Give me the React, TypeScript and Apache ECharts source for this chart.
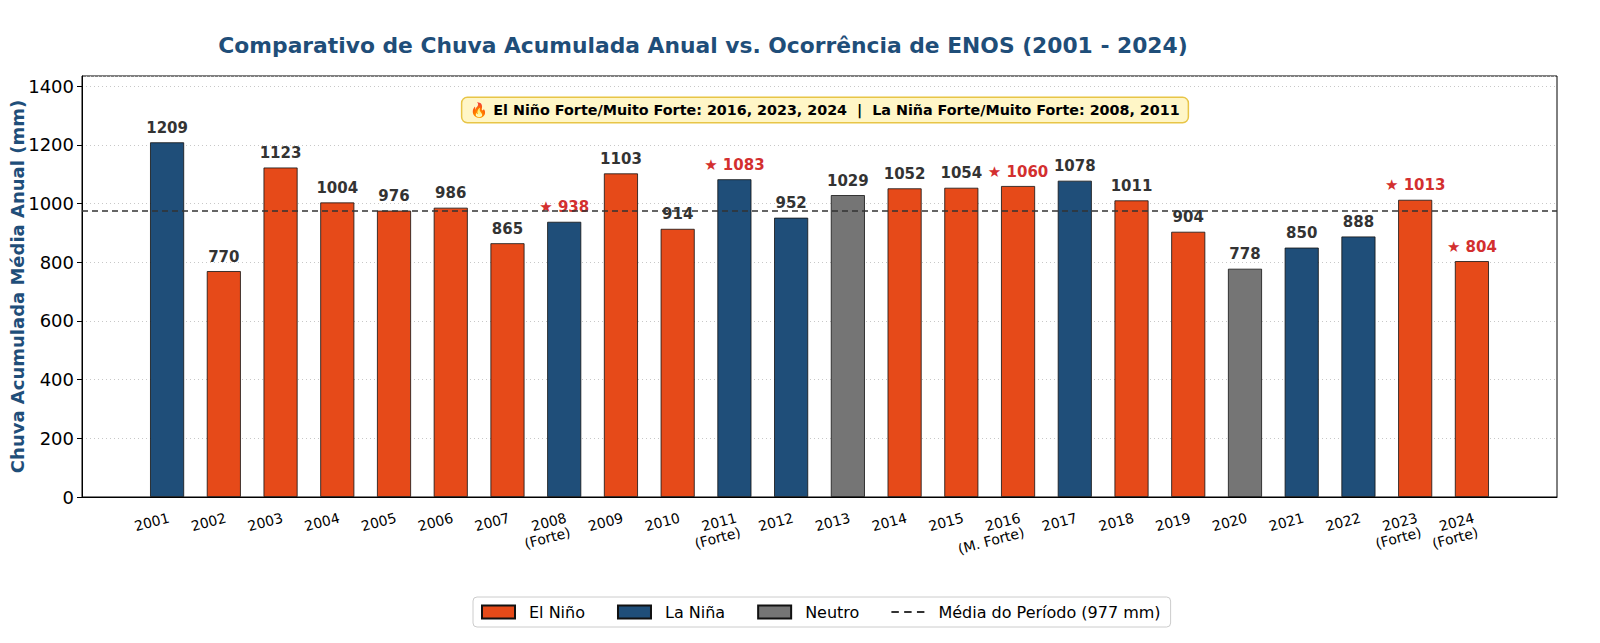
import React, { useEffect, useRef } from "react";
import * as echarts from "echarts";

const years = [2001, 2002, 2003, 2004, 2005, 2006, 2007, 2008, 2009, 2010, 2011, 2012, 2013, 2014, 2015, 2016, 2017, 2018, 2019, 2020, 2021, 2022, 2023, 2024];
const rainfall = [1209, 770, 1123, 1004, 976, 986, 865, 938, 1103, 914, 1083, 952, 1029, 1052, 1054, 1060, 1078, 1011, 904, 778, 850, 888, 1013, 804];
const phases = ["LN", "EN", "EN", "EN", "EN", "EN", "EN", "LN", "EN", "EN", "LN", "LN", "N", "EN", "EN", "EN", "LN", "EN", "EN", "N", "LN", "LN", "EN", "EN"];
const intensity = ["", "", "", "", "", "", "", "Forte", "", "", "Forte", "", "", "", "", "M. Forte", "", "", "", "", "", "", "Forte", "Forte"];
const meanValue = 977;

const FONT = "DejaVu Sans";
const COLORS: Record<string, string> = { EN: "#E64A19", LN: "#1F4E79", N: "#757575" };
const NAMES: Record<string, string> = { EN: "El Niño", LN: "La Niña", N: "Neutro" };
const MEAN_NAME = "Média do Período (977 mm)";

export default function App() {
  const ref = useRef<HTMLDivElement>(null);
  useEffect(() => {
    if (!ref.current) return;
    const chart = echarts.init(ref.current, undefined, { renderer: "svg" });
    const cats = ["", ...years.map((y, i) => (intensity[i] ? `${y}\n(${intensity[i]})` : `${y}`)), ""];
    const n = cats.length;
    const visible = (idx: number) => idx > 0 && idx < n - 1;

    const makeSeries = (key: string) => ({
      name: NAMES[key],
      type: "bar",
      barWidth: "60%",
      barGap: "-100%",
      data: ["-", ...rainfall.map((v, i) => (phases[i] === key ? v : "-")), "-"],
      itemStyle: { color: COLORS[key], borderColor: "#111", borderWidth: 0.8 },
      label: {
        show: true,
        position: "top",
        distance: 7,
        formatter: (p: any) => {
          const i = p.dataIndex - 1;
          return intensity[i] ? `{s|★ ${rainfall[i]}}` : `{n|${rainfall[i]}}`;
        },
        rich: {
          n: { fontFamily: FONT, fontSize: 15, fontWeight: "bold", color: "#333" },
          s: { fontFamily: FONT, fontSize: 15, fontWeight: "bold", color: "#D32F2F" },
        },
      },
    });

    const legendText = { fontFamily: FONT, fontSize: 16, color: "#000", padding: [0, 0, 0, 9] };

    const option: any = {
      animation: false,
      textStyle: { fontFamily: FONT },
      title: {
        text: "Comparativo de Chuva Acumulada Anual vs. Ocorrência de ENOS (2001 - 2024)",
        left: 690,
        top: 21,
        textAlign: "center",
        textStyle: { fontFamily: FONT, fontSize: 21.8, fontWeight: "bold", color: "#1F4E79" },
      },
      grid: {
        left: 74,
        right: 35,
        top: 68,
        bottom: 138,
        outerBoundsMode: "none",
        containLabel: false,
        show: true,
        borderColor: "#000",
        borderWidth: 1,
        backgroundColor: "transparent",
      },
      legend: {
        left: 465,
        bottom: 8,
        data: [
          { name: "El Niño", icon: "rect" },
          { name: "La Niña", icon: "rect" },
          { name: "Neutro", icon: "rect" },
          { name: MEAN_NAME, icon: "path://M0,5 h7 v2 h-7z M12,5 h7 v2 h-7z M24,5 h7 v2 h-7z" },
        ],
        borderColor: "#ccc",
        borderWidth: 1,
        borderRadius: 4,
        padding: [7, 10, 7, 8],
        itemWidth: 33,
        itemHeight: 13,
        itemGap: 32,
        textStyle: legendText,
      },
      xAxis: {
        type: "category",
        data: cats,
        axisLine: { lineStyle: { color: "#000" } },
        axisTick: { alignWithLabel: true, interval: (idx: number) => visible(idx), lineStyle: { color: "#000" }, length: 5 },
        axisLabel: {
          interval: (idx: number) => visible(idx),
          rotate: 15,
          fontFamily: FONT,
          fontSize: 14,
          color: "#000",
          lineHeight: 15,
          margin: 13,
          verticalAlign: "top",
        },
      },
      yAxis: {
        type: "value",
        min: 0,
        max: 1435,
        interval: 200,
        name: "Chuva Acumulada Média Anual (mm)",
        nameLocation: "middle",
        nameGap: 56,
        nameMoveOverlap: false,
        nameTextStyle: { fontFamily: FONT, fontSize: 18, fontWeight: "bold", color: "#1F4E79" },
        axisLine: { show: true, lineStyle: { color: "#000" } },
        axisTick: { show: true, length: 5, lineStyle: { color: "#000" } },
        axisLabel: { fontFamily: FONT, fontSize: 18, color: "#000", margin: 8, showMaxLabel: false, formatter: (v: number) => String(v) },
        splitLine: { show: true, lineStyle: { color: "#c8c8c8", type: [1, 3], width: 1 } },
      },
      series: [
        {
          ...makeSeries("EN"),
          markLine: {
            silent: true,
            symbol: "none",
            label: { show: false },
            lineStyle: { color: "#333", type: [6, 4], width: 1.5 },
            data: [{ yAxis: meanValue }],
          },
        },
        makeSeries("LN"),
        makeSeries("N"),
        {
          name: MEAN_NAME,
          type: "line",
          data: [],
          symbol: "none",
          lineStyle: { color: "#333", type: [5, 4], width: 1.5 },
          itemStyle: { color: "#333" },
        },
      ],
      graphic: [
        {
          type: "text",
          x: 817,
          y: 102,
          style: {
            text: "🔥 El Niño Forte/Muito Forte: 2016, 2023, 2024  |  La Niña Forte/Muito Forte: 2008, 2011",
            font: `bold 14.3px "${FONT}"`,
            fill: "#000",
            align: "center",
            verticalAlign: "middle",
            backgroundColor: "#FFF6C7",
            borderColor: "#E8C547",
            borderWidth: 1.5,
            borderRadius: 5,
            padding: [5, 8, 5, 8],
          },
        },
      ],
    };
    chart.setOption(option);
    return () => chart.dispose();
  }, []);
  return <div ref={ref} style={{ width: 1584, height: 627 }} />;
}
